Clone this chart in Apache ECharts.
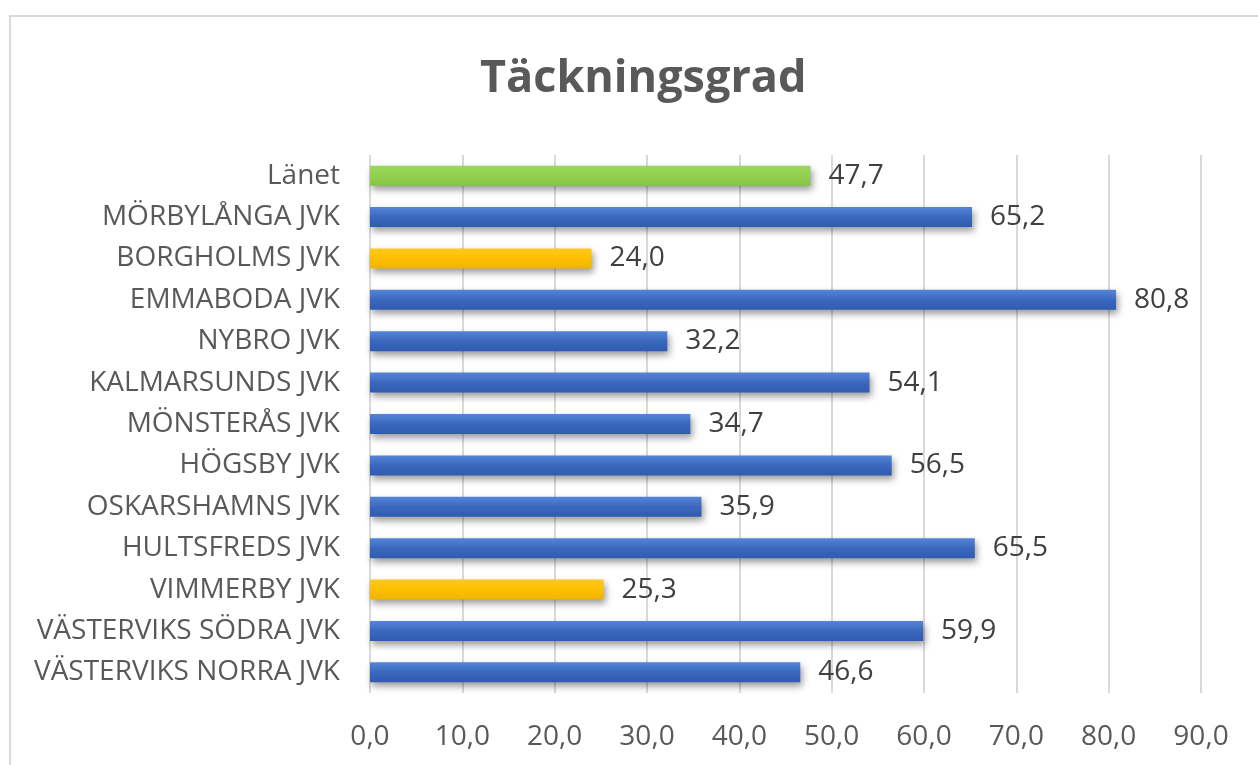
<!DOCTYPE html>
<html>
<head>
<meta charset="utf-8">
<script src="https://cdn.jsdelivr.net/npm/echarts@6/dist/echarts.min.js"></script>
<style>
  html, body { margin: 0; padding: 0; background: #fff; }
  #chart { width: 1258px; height: 765px; }
</style>
</head>
<body>
<div id="chart"></div>
<script>
// categories listed bottom -> top (ECharts category y-axis starts at the bottom)
const categories = [
  'VÄSTERVIKS NORRA JVK',
  'VÄSTERVIKS SÖDRA JVK',
  'VIMMERBY JVK',
  'HULTSFREDS JVK',
  'OSKARSHAMNS JVK',
  'HÖGSBY JVK',
  'MÖNSTERÅS JVK',
  'KALMARSUNDS JVK',
  'NYBRO JVK',
  'EMMABODA JVK',
  'BORGHOLMS JVK',
  'MÖRBYLÅNGA JVK',
  'Länet',
];
const values = [46.6, 59.9, 25.3, 65.5, 35.9, 56.5, 34.7, 54.1, 32.2, 80.8, 24.0, 65.2, 47.7];
// bar colour group per category: b = blue, y = yellow, g = green
const groups = ['b', 'b', 'y', 'b', 'b', 'b', 'b', 'b', 'b', 'b', 'y', 'b', 'g'];

const fills = {
  b: ['#5585d6', '#3a68bf', '#2f5bb0'],
  y: ['#ffc820', '#ffc000', '#f0b400'],
  g: ['#9ad85a', '#92d050', '#86c446'],
};

function fmt(v) {
  return v.toFixed(1).replace('.', ',');
}

const FONT = '"Open Sans", "Noto Sans", sans-serif';

const chart = echarts.init(document.getElementById('chart'));
const option = {
  backgroundColor: '#fff',
  animation: false,
  title: {
    text: 'Täckningsgrad',
    left: 475,
    top: 52,
    textStyle: {
      fontFamily: FONT,
      fontSize: 45,
      fontWeight: 'bold',
      color: '#595959',
    },
  },
  graphic: [
    {
      type: 'rect',
      shape: { x: 10, y: 16, width: 1400, height: 900 },
      style: { fill: 'none', stroke: '#d9d9d9', lineWidth: 2 },
      silent: true,
    },
  ],
  grid: {
    left: 370,
    right: 57,
    top: 155,
    bottom: 72,
  },
  xAxis: {
    type: 'value',
    min: 0,
    max: 90,
    interval: 10,
    axisLine: { show: false },
    axisTick: { show: false },
    axisLabel: {
      formatter: fmt,
      fontFamily: FONT,
      fontSize: 28,
      color: '#595959',
      margin: 30,
    },
    splitLine: {
      show: true,
      lineStyle: { color: '#d9d9d9', width: 2 },
    },
  },
  yAxis: {
    type: 'category',
    data: categories,
    axisLine: { show: false },
    axisTick: { show: false },
    axisLabel: {
      fontFamily: FONT,
      fontSize: 28,
      color: '#595959',
      margin: 30,
    },
  },
  series: [
    {
      type: 'bar',
      barWidth: 20,
      data: values.map((v, i) => {
        const c = fills[groups[i]];
        return {
          value: v,
          itemStyle: {
            color: new echarts.graphic.LinearGradient(0, 0, 0, 1, [
              { offset: 0, color: c[0] },
              { offset: 0.5, color: c[1] },
              { offset: 1, color: c[2] },
            ]),
            shadowColor: 'rgba(0,0,0,0.4)',
            shadowBlur: 7,
            shadowOffsetX: 2,
            shadowOffsetY: 4,
          },
        };
      }),
      label: {
        show: true,
        position: 'right',
        distance: 18,
        formatter: (p) => fmt(p.value),
        fontFamily: FONT,
        fontSize: 28,
        color: '#404040',
      },
    },
  ],
};
chart.setOption(option);
</script>
</body>
</html>
